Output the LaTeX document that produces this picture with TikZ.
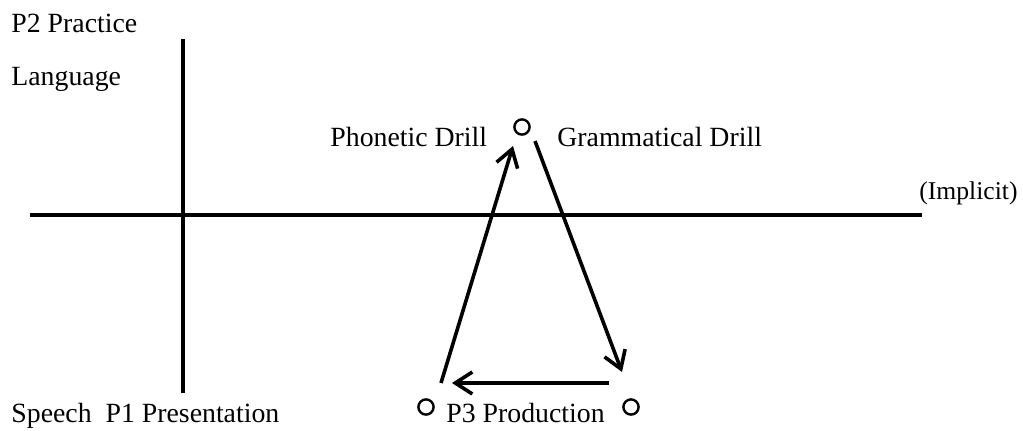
\documentclass[tikz,border=0pt]{standalone}
\usepackage{fontspec}
\setmainfont{Liberation Serif}
\usetikzlibrary{arrows.meta}
\begin{document}
\begin{tikzpicture}[x=0.5pt,y=-0.5pt,
  lbl/.style={anchor=base west,inner sep=0pt,font=\fontsize{13.9}{16}\selectfont},
  axis/.style={line width=1.8pt},
  arr/.style={line width=1.8pt,-{Straight Barb[length=8.5pt,width=11pt,line width=1.8pt]}},
  ring/.style={circle,draw,line width=1.2pt,minimum size=7.6pt,inner sep=0pt}]
\useasboundingbox (0,0) rectangle (1023,430);
% axes
\coordinate (vt) at (183,39);
\coordinate (vb) at (183,393);
\coordinate (hl) at (30,215);
\coordinate (hr) at (922,215);
\draw[axis] (vt) -- (vb);
\draw[axis] (hl) -- (hr);
% labels
\node[lbl] (p2) at (11,32) {P2 Practice};
\node[lbl] (lang) at (11,85) {Language};
\node[lbl] (sp) at (11,422) {Speech\ \ P1 Presentation};
\node[lbl] (pd) at (330,146) {Phonetic Drill};
\node[lbl] (gd) at (557,146) {Grammatical Drill};
\node[lbl,font=\fontsize{12.8}{15}\selectfont] (imp) at (919,199) {(Implicit)};
\node[lbl] (p3) at (446,422) {P3 Production};
% circles
\node[ring] (ct) at (522,127) {};
\node[ring] (cl) at (426,407) {};
\node[ring] (cr) at (631,407) {};
% arrows
\coordinate (a1s) at (441,383);
\coordinate (a1e) at (513,146);
\coordinate (a2s) at (535,141);
\coordinate (a2e) at (622,372);
\coordinate (a3s) at (609,383);
\coordinate (a3e) at (452,383);
\draw[arr] (a1s) -- (a1e);
\draw[arr] (a2s) -- (a2e);
\draw[arr] (a3s) -- (a3e);
\end{tikzpicture}
\end{document}
